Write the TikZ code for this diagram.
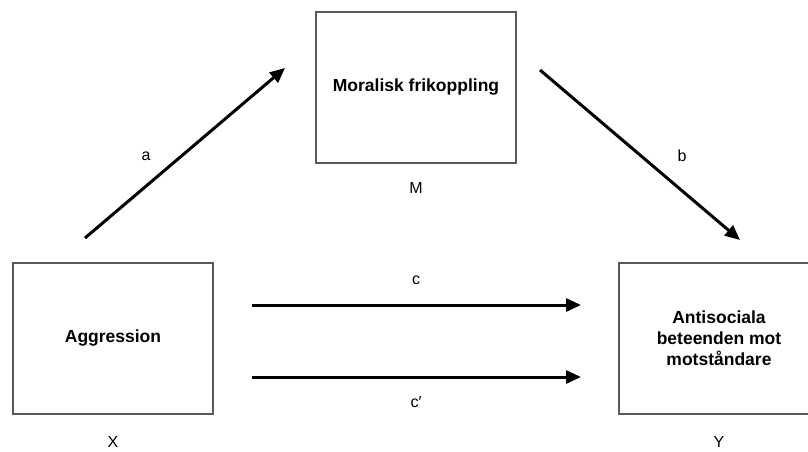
\documentclass[tikz,border=0pt]{standalone}
\usepackage{fontspec}
\setmainfont{Liberation Sans}
\usetikzlibrary{arrows.meta}
\tikzset{
  var/.style={draw=black!65, line width=1.3pt, minimum width=200pt,
    minimum height=151pt, font=\fontsize{17.5}{21}\selectfont\bfseries,
    align=center, inner sep=0pt},
  lbl/.style={font=\fontsize{16}{19}\selectfont},
  path/.style={line width=3pt, ->}
}

\begin{document}
\begin{tikzpicture}[x=1pt, y=-1pt, >={Triangle[length=15pt,width=13pt]}]
\clip (0,0) rectangle (808,451);
\node[var] (mbox) at (416,87.5) {Moralisk frikoppling};
\node[var] (xbox) at (113,338.5) {Aggression};
\node[var] (ybox) at (719,338.5) {Antisociala\\beteenden mot\\motståndare};
\node[lbl] (mlab) at (416,188) {M};
\node[lbl] (xlab) at (113,442) {X};
\node[lbl] (ylab) at (719,442) {Y};
% arrow end points
\coordinate (a0) at (85,238);  \coordinate (a1) at (285,68);
\coordinate (b0) at (540,70);  \coordinate (b1) at (740,240);
\coordinate (c0) at (252,305); \coordinate (c1) at (581,305);
\coordinate (d0) at (252,377); \coordinate (d1) at (581,377);
\draw[path] (a0) -- (a1);
\draw[path] (b0) -- (b1);
\draw[path] (c0) -- (c1);
\draw[path] (d0) -- (d1);
\node[lbl] (alab) at (146,156) {a};
\node[lbl] (blab) at (682,156) {b};
\node[lbl] (clab) at (416,280) {c};
\node[lbl] (dlab) at (416,402) {c′};
\end{tikzpicture}
\end{document}
